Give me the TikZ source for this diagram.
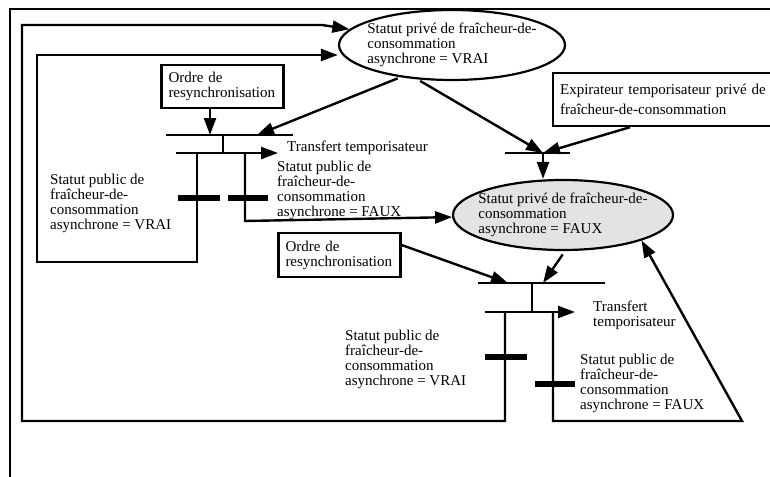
\documentclass[tikz,border=0pt]{standalone}
\usepackage{fontspec}
\setmainfont{Liberation Serif}
\usetikzlibrary{arrows.meta,shapes.geometric}

\tikzset{
  etat/.style={draw, ellipse, line width=2.2pt, inner sep=0pt},
  boite/.style={draw, line width=2.2pt, align=left, inner xsep=7pt, inner ysep=3pt},
  legende/.style={align=left, inner sep=0pt},
  barre/.style={line width=2pt},
  garde/.style={line width=6pt},
  fleche/.style={->, line width=2.4pt},
}

\begin{document}
\begin{tikzpicture}[x=1pt, y=-1pt, >={Triangle[length=17pt,width=12pt]},
    line width=2.4pt, font=\fontsize{15}{15}\selectfont]
  \path[use as bounding box, clip] (0,0) rectangle (770,476);
  \fill[white] (0,0) rectangle (770,476);

  % cadre
  \draw (10,480) -- (10,9) -- (775,9);

  % places
  \node (ellV) [etat, minimum width=226pt, minimum height=70pt,
    label={[legende]center:{Statut privé de fraîcheur-de-\\consommation\\asynchrone = VRAI}}]
    at (452,45) {};
  \node (ellF) [etat, fill=gray!22, minimum width=220pt, minimum height=70pt,
    label={[legende]center:{Statut privé de fraîcheur-de-\\consommation\\ asynchrone = FAUX}}]
    at (563,215) {};

  % evenements
  \node (ordreA) [boite, text width=108pt, minimum height=43pt] at (222.5,86.5)
    {Ordre de\\resynchronisation};
  \node (ordreB) [boite, text width=108pt, minimum height=44pt] at (339.5,255)
    {Ordre de\\resynchronisation};
  \node (expir) [boite, anchor=north west, text width=235pt, minimum height=53pt,
    font=\fontsize{15}{20}\selectfont] at (552,72)
    {Expirateur temporisateur privé de\\ fraîcheur-de-consommation};

  % transitions
  \coordinate (tA1) at (210,135);
  \coordinate (tA2) at (257,135);
  \coordinate (a1) at (197,153);
  \coordinate (a2) at (245,153);
  \coordinate (tB) at (543,153);
  \coordinate (tC1) at (508,283);
  \coordinate (tC2) at (543,283);
  \coordinate (b1) at (505,312);
  \coordinate (b2) at (553,312);

  \draw[barre] (166,135) -- (293,135);
  \draw[barre] (223,135) -- (223,153);
  \draw[barre] (505,153) -- (570,153);
  \draw[barre] (478,283) -- (605,283);
  \draw[barre] (532,283) -- (532,312);

  \draw[garde] (178,198) -- (220,198);
  \draw[garde] (228,198) -- (268,198);
  \draw[garde] (485,357) -- (527,357);
  \draw[garde] (535,384) -- (575,384);

  % textes
  \node (trA) [legende, anchor=west] at (286,148) {Transfert temporisateur};
  \node (trB) [legende, anchor=west] at (592,315) {Transfert\\temporisateur};
  \node (lpA1) [legende, anchor=west] at (49,203.5)
    {Statut public de\\fraîcheur-de-\\consommation\\asynchrone = VRAI};
  \node (lpA2) [legende, anchor=west] at (276,190)
    {Statut public de\\fraîcheur-de-\\consommation\\asynchrone = FAUX};
  \node (lpB1) [legende, anchor=west] at (344,359)
    {Statut public de\\fraîcheur-de-\\consommation\\asynchrone = VRAI};
  \node (lpB2) [legende, anchor=west] at (579,383)
    {Statut public de\\fraîcheur-de-\\consommation\\asynchrone = FAUX};

  % arcs
  \draw[fleche] (ordreA.south -| tA1) -- (tA1);
  \draw[fleche, shorten <=3pt] (ellV.212) -- (tA2);
  \draw[fleche, shorten <=3pt] (ellV.225) -- (tB);
  \draw[fleche] ([xshift=78pt]expir.south west) -- (tB);
  \draw[fleche] (tB) -- (tB |- ellF.north);
  \draw[fleche] (176,153) -- ([xshift=-8pt]trA.west |- a1);
  \draw[fleche] (a1) -- (197,262) -- (37,262) -- (37,55) -- (ellV.west |- 0,55);
  \draw[fleche] (a2) -- (245,221) -- (ellF);

  \draw[fleche] ([yshift=10pt]ordreB.east) -- (tC1);
  \draw[fleche, shorten <=4pt] ([xshift=2pt]ellF.south) -- (tC2);
  \draw[fleche] (485,312) -- ([xshift=-17pt]trB.west |- b1);
  \draw[fleche] (b1) -- (505,421) -- (22,421) -- (22,25) -- (322,25) -- (ellV);
  \draw[fleche] (b2) -- (553,421) -- (742,421) -- (ellF.342);
\end{tikzpicture}
\end{document}
